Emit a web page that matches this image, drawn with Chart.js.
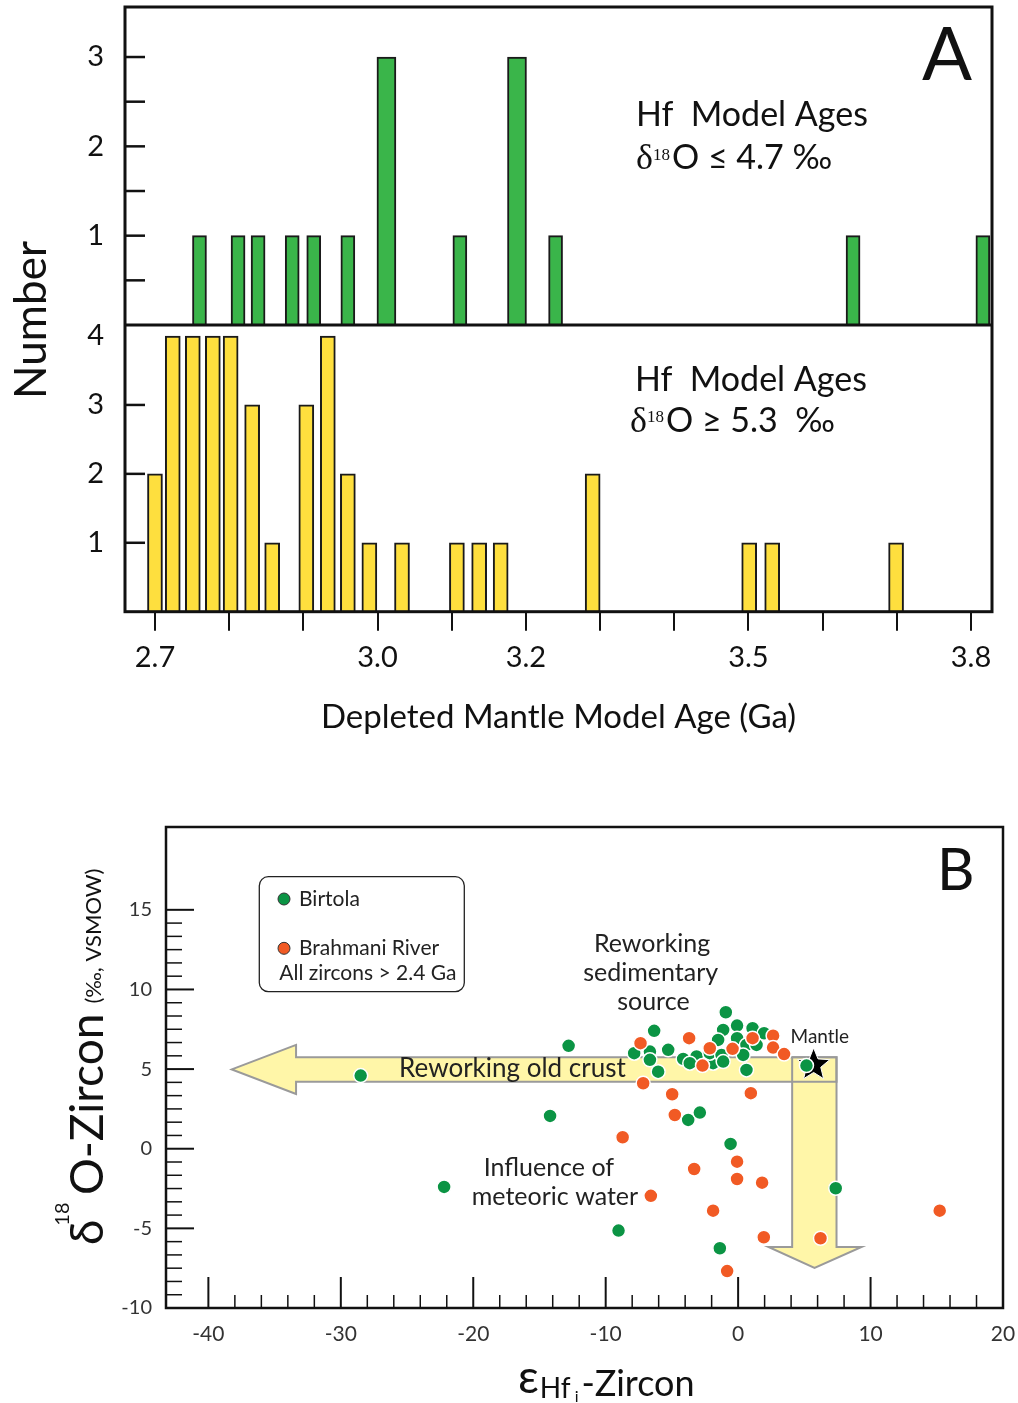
<!DOCTYPE html>
<html>
<head>
<meta charset="utf-8">
<script src="https://cdn.jsdelivr.net/npm/chart.js@4.4.1/dist/chart.umd.min.js"></script>
<style>
  html, body { margin: 0; padding: 0; background: #fff; }
  canvas { display: block; }
</style>
</head>
<body>
<canvas id="chartA" width="1018" height="750"></canvas>
<canvas id="chartB" width="1018" height="653"></canvas>
<script>
// --- panel A: Hf model age histograms ---
const AGE_TICKS = [2.7, 2.8, 2.9, 3.0, 3.1, 3.2, 3.3, 3.4, 3.5, 3.6, 3.7, 3.8];
const AGE_LABELS = ['2.7', '', '', '3.0', '', '3.2', '', '', '3.5', '', '', '3.8'];
const LOW_O_AGES = [2.760, 2.812, 2.839, 2.885, 2.914, 2.960, 3.012, 3.111, 3.188, 3.240, 3.641, 3.816];
const LOW_O_COUNTS = [1, 1, 1, 1, 1, 1, 3, 1, 3, 1, 1, 1];
const HIGH_O_AGES = [2.700, 2.724, 2.751, 2.778, 2.802, 2.831, 2.858, 2.904, 2.933, 2.960,
                     2.989, 3.033, 3.107, 3.137, 3.166, 3.290, 3.501, 3.532, 3.699];
const HIGH_O_COUNTS = [2, 4, 4, 4, 4, 3, 1, 3, 4, 2, 1, 1, 1, 1, 1, 2, 1, 1, 1];
const TOP_TICKS = [0.5, 1, 1.5, 2, 2.5, 3];
const TOP_LABELS = ['', '1', '', '2', '', '3'];
const BOT_TICKS = [1, 2, 3, 4];
const BOT_LABELS = ['1', '2', '3', '4'];

// --- panel B: eHf vs d18O ---
const EPS_TICKS = [-40, -30, -20, -10, 0, 10, 20];
const EPS_LABELS = ['-40', '-30', '-20', '-10', '0', '10', '20'];
const D18O_TICKS = [-10, -5, 0, 5, 10, 15];
const D18O_LABELS = ['-10', '-5', '0', '5', '10', '15'];
const BIRTOLA_EPS = [-0.93, -6.34, -0.08, 1.09, -1.13, 1.96, -1.51, -0.08, -7.85, -6.66,
                     -6.66, -5.28, -6.04, -4.15, -3.14, -3.65, -1.89, -2.14, -1.25, -1.13,
                     0.63, 1.39, 0.38, 0.63, 5.16, -3.77, -2.89, -0.57, 7.37, -9.03,
                     -1.38, -12.8, -28.5, -14.2, -22.2];
const BIRTOLA_D18O = [8.57, 7.40, 7.73, 7.57, 7.46, 7.25, 6.83, 6.94, 6.00, 6.10,
                      5.58, 6.21, 4.84, 5.64, 5.79, 5.37, 5.37, 6.00, 5.89, 5.47,
                      6.52, 6.52, 5.89, 4.95, 5.22, 1.81, 2.27, 0.30, -2.48, -5.14,
                      -6.25, 6.46, 4.59, 2.06, -2.40];
const BRAHMANI_EPS = [-7.37, -3.70, -2.14, -2.69, -0.42, 1.09, 2.64, 2.64, 3.47, -7.17,
                      -4.98, 0.96, -4.78, -8.72, -0.08, -3.32, -0.08, 1.81, -6.59, -1.89,
                      15.22, 1.94, 6.22, -0.83];
const BRAHMANI_D18O = [6.63, 6.94, 6.31, 5.22, 6.27, 6.94, 7.10, 6.35, 5.94, 4.11,
                       3.42, 3.49, 2.12, 0.72, -0.81, -1.27, -1.90, -2.13, -2.96, -3.89,
                       -3.89, -5.56, -5.62, -7.68];
const MANTLE = { x: 5.7, y: 5.26 };
// arrow outlines (data units)
const ARROW_OLD_CRUST = [[-38.23, 4.98], [-33.38, 6.52], [-33.38, 5.75], [7.43, 5.75],
                         [7.43, 4.21], [-33.38, 4.21], [-33.38, 3.44]];
const ARROW_METEORIC = [[4.08, 5.75], [7.43, 5.75], [7.43, -6.17], [9.32, -6.17],
                        [5.77, -7.49], [2.29, -6.17], [4.08, -6.17]];

const FONT = 'Lato, "Open Sans", "DejaVu Sans", sans-serif';
const SERIF = '"Liberation Serif", "DejaVu Serif", serif';
const INK = '#111';

Chart.defaults.font.family = FONT;
Chart.defaults.color = INK;

function put(ctx, s, x, y, font, align, baseline) {
    ctx.font = font;
    ctx.textAlign = align || 'left';
    ctx.textBaseline = baseline || 'alphabetic';
    ctx.fillText(s, x, y);
    return ctx.measureText(s).width;
}
function tick(ctx, x1, y1, x2, y2) {
    ctx.beginPath(); ctx.moveTo(x1, y1); ctx.lineTo(x2, y2); ctx.stroke();
}
function deltaLine(ctx, x, y, supY, rest) {
    let w = put(ctx, 'δ', x, y, '36px ' + SERIF);
    w += put(ctx, '18', x + w, supY, '17px ' + SERIF);
    put(ctx, rest, x + w + 2, y, '34px ' + FONT);
}
// no extra room for overhanging tick labels: the chart area is set by hand
function noPad(s) {
    s.paddingLeft = s.paddingRight = s.paddingTop = s.paddingBottom = 0;
}

// frame, inward ticks and labels for panel A
const panelA = {
    id: 'panelA',
    afterDraw(chart) {
        const { ctx, chartArea: a, scales } = chart;
        ctx.save();
        ctx.strokeStyle = INK;
        ctx.fillStyle = INK;
        ctx.lineWidth = 2.5;
        TOP_TICKS.forEach(v => {
            const y = scales.yTop.getPixelForValue(v);
            tick(ctx, a.left, y, a.left + 20, y);
        });
        BOT_TICKS.filter(v => v < 4).forEach(v => {
            const y = scales.yBot.getPixelForValue(v);
            tick(ctx, a.left, y, a.left + 20, y);
        });
        ctx.lineWidth = 3;
        ctx.strokeRect(a.left, a.top, a.right - a.left, a.bottom - a.top);
        tick(ctx, a.left, scales.yTop.bottom, a.right, scales.yTop.bottom);

        put(ctx, 'A', 947, 80, '74px ' + FONT, 'center');
        put(ctx, 'Hf  Model Ages', 636, 126, '34px ' + FONT);
        deltaLine(ctx, 636, 169, 160, 'O ≤ 4.7 ‰');
        put(ctx, 'Hf  Model Ages', 635, 391, '34px ' + FONT);
        deltaLine(ctx, 630, 432, 422, 'O ≥ 5.3  ‰');

        ctx.translate(32, 320);
        ctx.rotate(-Math.PI / 2);
        put(ctx, 'Number', 0, 0, '44px ' + FONT, 'center', 'middle');
        ctx.restore();
    }
};

const barStyle = { borderColor: '#1a1a1a', borderWidth: 2, borderSkipped: 'start', stack: 'one' };
const lowO = LOW_O_AGES.map((x, i) => ({ x, y: LOW_O_COUNTS[i] }));
const highO = HIGH_O_AGES.map((x, i) => ({ x, y: HIGH_O_COUNTS[i] }));

new Chart(document.getElementById('chartA'), {
    type: 'bar',
    data: {
        datasets: [
            { label: 'δ18O ≤ 4.7 ‰', data: lowO.filter(p => p.y < 3), yAxisID: 'yTop',
              backgroundColor: '#3ab54a', barThickness: 14, ...barStyle },
            { label: 'δ18O ≤ 4.7 ‰ (peaks)', data: lowO.filter(p => p.y >= 3), yAxisID: 'yTop',
              backgroundColor: '#3ab54a', barThickness: 19, ...barStyle },
            { label: 'δ18O ≥ 5.3 ‰', data: highO, yAxisID: 'yBot',
              backgroundColor: '#fedf3e', barThickness: 15, ...barStyle }
        ]
    },
    options: {
        responsive: false,
        devicePixelRatio: 1,
        animation: false,
        layout: { padding: { top: 7, right: 26, left: 0, bottom: 0 } },
        plugins: { legend: { display: false }, tooltip: { enabled: false } },
        scales: {
            x: {
                type: 'linear', min: 2.6596, max: 3.8283, offset: false,
                afterBuildTicks: s => { s.ticks = AGE_TICKS.map(v => ({ value: v })); },
                afterFit: s => { s.height = 138.3; noPad(s); },
                grid: { display: true, offset: false, drawOnChartArea: false, drawTicks: true,
                        tickLength: 19, lineWidth: 2, color: INK },
                border: { display: false },
                ticks: { autoSkip: false, maxRotation: 0, padding: 10, font: { size: 29 }, color: INK,
                         callback: (v, i) => AGE_LABELS[i] },
                title: { display: true, text: 'Depleted Mantle Model Age (Ga)', color: INK,
                         font: { size: 33 }, padding: { top: 0, bottom: 13 } }
            },
            yBot: {
                type: 'linear', position: 'left', stack: 'ages', stackWeight: 286.7,
                min: 0, max: 4.16,
                afterBuildTicks: s => { s.ticks = BOT_TICKS.map(v => ({ value: v })); },
                afterFit: s => { s.width = 125; noPad(s); },
                grid: { display: false, drawTicks: false },
                border: { display: false },
                ticks: { padding: 21, font: { size: 29 }, color: INK, callback: (v, i) => BOT_LABELS[i] }
            },
            yTop: {
                type: 'linear', position: 'left', stack: 'ages', stackWeight: 318,
                min: 0, max: 3.56,
                afterBuildTicks: s => { s.ticks = TOP_TICKS.map(v => ({ value: v })); },
                afterFit: s => { s.width = 125; noPad(s); },
                grid: { display: false, drawTicks: false },
                border: { display: false },
                ticks: { padding: 21, font: { size: 29 }, color: INK, callback: (v, i) => TOP_LABELS[i] }
            }
        }
    },
    plugins: [panelA]
});

// --- panel B plugin: arrows, notes, frame, ticks, legend, titles ---
function outline(ctx, pts, sx, sy) {
    ctx.beginPath();
    pts.forEach(([x, y], i) => {
        const px = sx.getPixelForValue(x), py = sy.getPixelForValue(y);
        if (i === 0) ctx.moveTo(px, py); else ctx.lineTo(px, py);
    });
    ctx.closePath();
}

const panelB = {
    id: 'panelB',
    beforeDatasetsDraw(chart) {
        const { ctx, scales: { x: sx, y: sy } } = chart;
        const at = (x, y) => [sx.getPixelForValue(x), sy.getPixelForValue(y)];
        ctx.save();
        ctx.fillStyle = '#fff6a8';
        outline(ctx, ARROW_OLD_CRUST, sx, sy); ctx.fill();
        outline(ctx, ARROW_METEORIC, sx, sy); ctx.fill();
        ctx.strokeStyle = '#9a9a9a';
        ctx.lineWidth = 2;
        outline(ctx, ARROW_OLD_CRUST, sx, sy); ctx.stroke();
        outline(ctx, ARROW_METEORIC, sx, sy); ctx.stroke();

        // mantle star
        const [cx, cy] = at(MANTLE.x, MANTLE.y);
        ctx.beginPath();
        for (let k = 0; k < 10; k++) {
            const r = k % 2 === 0 ? 17 : 7.5;
            const ang = -Math.PI / 2 + k * Math.PI / 5;
            const px = cx + r * Math.cos(ang), py = cy + r * Math.sin(ang);
            if (k === 0) ctx.moveTo(px, py); else ctx.lineTo(px, py);
        }
        ctx.closePath();
        ctx.fillStyle = '#000';
        ctx.fill();
        ctx.strokeStyle = '#fff';
        ctx.lineWidth = 1;
        ctx.stroke();

        ctx.fillStyle = '#222';
        const f = '25px ' + FONT;
        put(ctx, 'Reworking', ...at(-6.5, 12.86), f, 'center', 'middle');
        put(ctx, 'sedimentary', ...at(-6.6, 11.04), f, 'center', 'middle');
        put(ctx, 'source', ...at(-6.4, 9.22), f, 'center', 'middle');
        put(ctx, 'Reworking old crust', ...at(-17.04, 5.06), '26px ' + FONT, 'center', 'middle');
        put(ctx, 'Influence of', ...at(-14.29, -1.21), f, 'center', 'middle');
        put(ctx, 'meteoric water', ...at(-13.83, -3.03), f, 'center', 'middle');
        put(ctx, 'Mantle', ...at(6.17, 7.02), '19px ' + FONT, 'center', 'middle');
        ctx.restore();
    },
    afterDraw(chart) {
        const { ctx, chartArea: a, scales: { x: sx, y: sy } } = chart;
        ctx.save();
        ctx.strokeStyle = INK;
        ctx.fillStyle = INK;
        // inward ticks
        ctx.lineWidth = 2;
        EPS_TICKS.forEach(v => { const x = sx.getPixelForValue(v); tick(ctx, x, a.bottom, x, a.bottom - 31); });
        D18O_TICKS.forEach(v => { const y = sy.getPixelForValue(v); tick(ctx, a.left, y, a.left + 28, y); });
        ctx.lineWidth = 1.5;
        for (let v = -38; v < 20; v += 2) {
            if (v % 10 === 0) continue;
            const x = sx.getPixelForValue(v);
            tick(ctx, x, a.bottom, x, a.bottom - 13);
        }
        for (let m = -10; m < 15; m += 5) {
            for (let k = 1; k < 6; k++) {
                const y = sy.getPixelForValue(m + k * 5 / 6);
                tick(ctx, a.left, y, a.left + 16, y);
            }
        }
        ctx.lineWidth = 2.5;
        ctx.strokeRect(a.left, a.top, a.right - a.left, a.bottom - a.top);

        put(ctx, 'B', 937, 140, '58px ' + FONT);

        // legend
        ctx.lineWidth = 1.3;
        ctx.strokeStyle = '#222';
        ctx.beginPath();
        ctx.roundRect(259.3, 126.7, 205, 115, 9);
        ctx.stroke();
        const ds = chart.data.datasets;
        [[ds[0], 149], [ds[1], 198.3]].forEach(([d, y]) => {
            ctx.beginPath();
            ctx.arc(284, y, 6, 0, Math.PI * 2);
            ctx.fillStyle = d.backgroundColor;
            ctx.fill();
            ctx.strokeStyle = '#333';
            ctx.lineWidth = 1;
            ctx.stroke();
            ctx.fillStyle = '#222';
            put(ctx, d.label, 299, y, '21px ' + FONT, 'left', 'middle');
        });
        put(ctx, 'All zircons > 2.4 Ga', 279.3, 223.3, '21px ' + FONT, 'left', 'middle');

        // y title: d18O-Zircon (permil, VSMOW)
        ctx.fillStyle = INK;
        ctx.save();
        ctx.translate(103, 495);
        ctx.rotate(-Math.PI / 2);
        let w = put(ctx, 'δ', 0, 0, '46px ' + FONT);
        put(ctx, '18', w - 6, -34, '20px ' + FONT);
        put(ctx, 'O-Zircon', 50, 0, '46px ' + FONT);
        ctx.font = '46px ' + FONT;
        const wz = ctx.measureText('O-Zircon').width;
        put(ctx, '(‰, VSMOW)', 50 + wz + 10, -2, '22px ' + FONT);
        ctx.restore();

        // x title: eHf(i)-Zircon
        let x = 518;
        x += put(ctx, 'ε', x, 643, '46px ' + FONT) + 1;
        x += put(ctx, 'Hf', x, 648, '28px ' + FONT) + 4;
        x += put(ctx, 'i', x, 652, '16px ' + FONT) + 3;
        put(ctx, '-Zircon', x, 646, '36px ' + FONT);
        ctx.restore();
    }
};

const pointStyle = { pointRadius: 7, pointHoverRadius: 7, borderColor: '#fff', borderWidth: 1.5 };

new Chart(document.getElementById('chartB'), {
    type: 'scatter',
    data: {
        datasets: [
            { label: 'Birtola', data: BIRTOLA_EPS.map((x, i) => ({ x, y: BIRTOLA_D18O[i] })),
              backgroundColor: '#0b9444', order: 1, ...pointStyle },
            { label: 'Brahmani River', data: BRAHMANI_EPS.map((x, i) => ({ x, y: BRAHMANI_D18O[i] })),
              backgroundColor: '#f15a24', order: 0, ...pointStyle }
        ]
    },
    options: {
        responsive: false,
        devicePixelRatio: 1,
        animation: false,
        layout: { padding: { top: 77, right: 15, left: 0, bottom: 0 } },
        plugins: { legend: { display: false }, tooltip: { enabled: false } },
        scales: {
            x: {
                type: 'linear', min: -43.2, max: 20,
                afterBuildTicks: s => { s.ticks = EPS_TICKS.map(v => ({ value: v })); },
                afterFit: s => { s.height = 95; noPad(s); },
                grid: { display: false, drawTicks: false },
                border: { display: false },
                ticks: { autoSkip: false, maxRotation: 0, padding: 14, font: { size: 21 }, color: '#333',
                         callback: (v, i) => EPS_LABELS[i] }
            },
            y: {
                type: 'linear', min: -10, max: 20.2,
                afterBuildTicks: s => { s.ticks = D18O_TICKS.map(v => ({ value: v })); },
                afterFit: s => { s.width = 166; noPad(s); },
                grid: { display: false, drawTicks: false },
                border: { display: false },
                ticks: { padding: 14, font: { size: 20 }, color: '#333',
                         callback: (v, i) => D18O_LABELS[i] }
            }
        }
    },
    plugins: [panelB]
});
</script>
</body>
</html>
